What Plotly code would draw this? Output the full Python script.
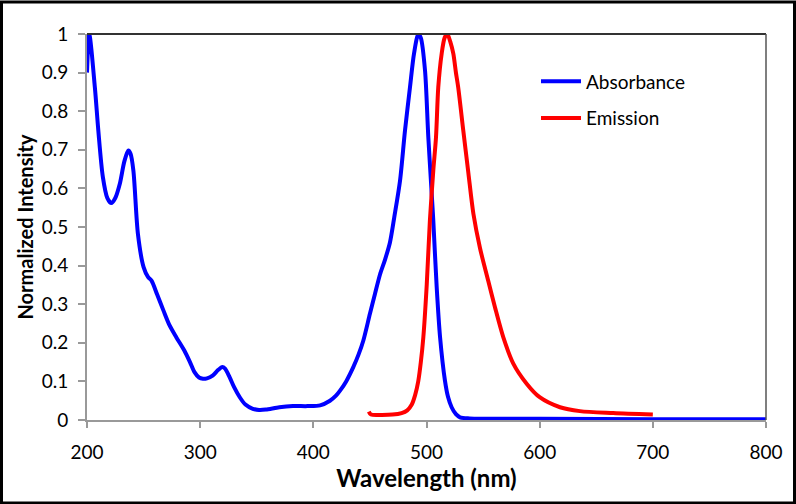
import plotly.graph_objects as go

# Absorbance spectrum (wavelength nm, normalized intensity)
abs_wl = [200, 202, 207, 210, 214, 218, 221.5, 225, 229, 233, 236.5, 238.5, 241, 245, 250, 254, 257,
          262, 267.5, 273, 279, 286, 291, 295, 299, 302.5, 306, 311, 316, 319.5, 322, 326, 330, 335,
          340, 346.5, 352, 358, 370, 382, 395, 406, 414.7, 420, 423.6, 429, 435.3, 440, 444.2, 450,
          454.5, 458.9, 463.3, 467.7, 471.5, 476.6, 481, 485.4, 489, 492.8, 495, 498.7, 501.6,
          504.6, 506, 509, 512, 516.3, 519, 522.2, 526, 529.6, 538, 550, 600, 700, 800]
abs_val = [0.90, 1.0, 0.86, 0.75, 0.63, 0.575, 0.562, 0.575, 0.612, 0.67, 0.698, 0.69, 0.646, 0.482,
           0.396, 0.37, 0.361, 0.325, 0.284, 0.245, 0.214, 0.18, 0.15, 0.124, 0.11, 0.107, 0.108, 0.115,
           0.13, 0.137, 0.133, 0.111, 0.085, 0.059, 0.04, 0.029, 0.026, 0.027, 0.033, 0.036, 0.036,
           0.038, 0.05, 0.063, 0.076, 0.10, 0.137, 0.17, 0.206, 0.275, 0.327, 0.377, 0.415, 0.46,
           0.525, 0.62, 0.75, 0.862, 0.95, 1.0, 0.99, 0.905, 0.733, 0.586, 0.517, 0.344, 0.214,
           0.102, 0.06, 0.033, 0.015, 0.007, 0.004, 0.003, 0.003, 0.002, 0.002]

# Emission spectrum
em_wl = [449, 451, 460, 470, 478, 483, 487, 490, 492.7, 495, 497.2, 500.2, 503, 506, 508.4, 510.4,
         513.4, 516, 518.4, 521, 523.7, 526, 528, 532.5, 537, 541.4, 547.3, 554.6, 560.5, 567.9,
         576.7, 588.5, 600, 618, 635.6, 665, 700]
em_val = [0.022, 0.014, 0.013, 0.014, 0.018, 0.025, 0.04, 0.065, 0.10, 0.15, 0.214, 0.35, 0.517,
          0.646, 0.733, 0.862, 0.949, 0.99, 1.0, 0.98, 0.949, 0.90, 0.862, 0.75, 0.64, 0.535, 0.445,
          0.36, 0.292, 0.214, 0.146, 0.094, 0.059, 0.033, 0.023, 0.018, 0.014]

x_ticks = [200, 300, 400, 500, 600, 700, 800]
y_ticks = [0, 0.1, 0.2, 0.3, 0.4, 0.5, 0.6, 0.7, 0.8, 0.9, 1]
y_tick_text = ["0", "0.1", "0.2", "0.3", "0.4", "0.5", "0.6", "0.7", "0.8", "0.9", "1"]

FONT = "Lato, 'Open Sans', sans-serif"

fig = go.Figure()
fig.add_trace(go.Scatter(x=abs_wl, y=abs_val, mode="lines", name="Absorbance",
                         legendgroup="a",
                         line=dict(color="#0000FF", width=4, shape="spline", smoothing=0.8)))
fig.add_trace(go.Scatter(x=em_wl, y=em_val, mode="lines", name="Emission",
                         legendgroup="b",
                         line=dict(color="#FF0000", width=4, shape="spline", smoothing=0.8)))

L, R, T, B = 87, 30, 34, 84
W, H = 796, 504
pw, ph = W - L - R, H - T - B

fig.update_layout(
    width=W, height=H,
    margin=dict(l=L, r=R, t=T, b=B, pad=0),
    paper_bgcolor="white", plot_bgcolor="white",
    font=dict(family=FONT, size=19, color="black"),
    showlegend=True,
    legend=dict(x=(536 - L) / pw, y=(419.5 - 62) / ph, xanchor="left", yanchor="top",
                bgcolor="rgba(0,0,0,0)", font=dict(size=19), tracegroupgap=9,
                itemwidth=40),
    xaxis=dict(range=[200, 800], tickvals=x_ticks, showgrid=False, zeroline=False,
               showline=True, linecolor="#999999", linewidth=2,
               ticks="outside", ticklen=6, tickcolor="#999999", tickwidth=2,
               ticklabelstandoff=8, tickfont=dict(size=19),
               title=dict(text="<b>Wavelength (nm)</b>", font=dict(size=24), standoff=3)),
    yaxis=dict(range=[0, 1], tickvals=y_ticks, ticktext=y_tick_text, showgrid=False,
               zeroline=False, showline=True, linecolor="#999999", linewidth=2,
               ticks="outside", ticklen=7, tickcolor="#999999", tickwidth=2,
               ticklabelstandoff=6, tickfont=dict(size=19),
               title=dict(text="<b>Normalized Intensity</b>", font=dict(size=20), standoff=3)),
    shapes=[
        dict(type="line", xref="paper", yref="paper", x0=0, x1=1, y0=1, y1=1,
             line=dict(color="#333333", width=2)),
        dict(type="line", xref="paper", yref="paper", x0=1, x1=1, y0=0, y1=1,
             line=dict(color="#555555", width=1.5)),
        dict(type="rect", xref="paper", yref="paper",
             x0=(1.5 - L) / pw, x1=(W - 1.5 - L) / pw,
             y0=(419.5 - (H - 1.5)) / ph, y1=(419.5 - 1.5) / ph,
             line=dict(color="black", width=3), fillcolor="rgba(0,0,0,0)"),
    ],
)

fig.write_html("out.html", config={"displayModeBar": False},
               post_script="document.body.style.margin='0px';")
